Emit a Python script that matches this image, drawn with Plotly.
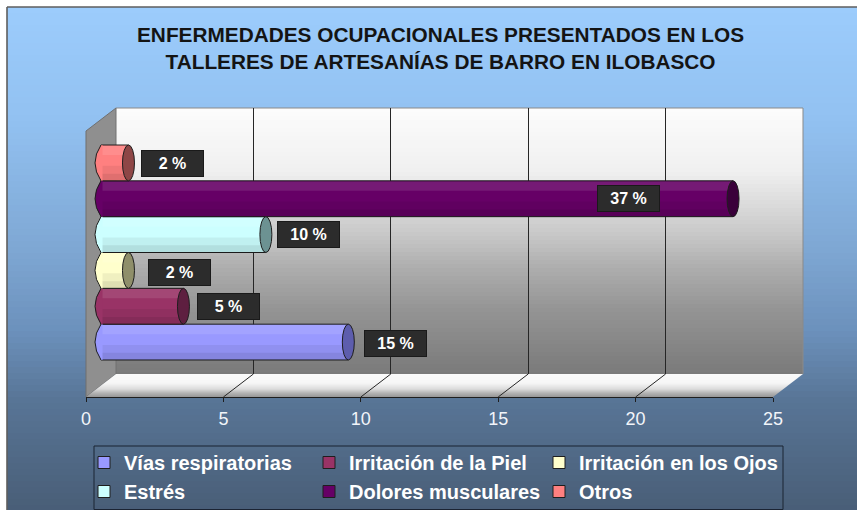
import plotly.graph_objects as go

# ---------------------------------------------------------------- datos
enfermedades = ["Vías respiratorias", "Irritación de la Piel", "Irritación en los Ojos",
                "Estrés", "Dolores musculares", "Otros"]
casos = [9, 3, 1, 6, 23, 1]             # longitud de cada cilindro (eje 0-25)
porcentajes = [15, 5, 2, 10, 37, 2]     # porcentaje rotulado en cada barra
marcas_x = [0, 5, 10, 15, 20, 25]

titulo = ("ENFERMEDADES OCUPACIONALES PRESENTADOS EN LOS<br>"
          "TALLERES DE ARTESANÍAS DE BARRO EN ILOBASCO")

# ---------------------------------------------------------------- estilo
colores = ["#9999FF", "#993366", "#FFFFCC", "#CCFFFF", "#660066", "#FF8080"]
colores_tapa = ["#5d5dad", "#5e1f40", "#8f8f6a", "#6c9292", "#3a003a", "#8e4646"]
# desplazamiento (px) de cada rótulo respecto al extremo de su barra
rotulo_dx = [47, 45, 51, 43, -105, 44]
rotulo_dy = [-1, 0, -2, 0, 0, -1]
# la leyenda se reparte en tres columnas
leyendas = ["legend", "legend2", "legend3"]
leyenda_x = [84, 309, 539]

W, H = 857, 510
FUENTE = "Liberation Sans, Arial, sans-serif"


def fx(p):
    return p / W


def fy(p):
    return 1 - p / H


def mezcla(paradas, y):
    for (y0, c0), (y1, c1) in zip(paradas, paradas[1:]):
        if y0 <= y <= y1:
            t = (y - y0) / (y1 - y0)
            return "rgb(%d,%d,%d)" % tuple(round(a + (b - a) * t) for a, b in zip(c0, c1))
    return "rgb(%d,%d,%d)" % paradas[-1][1]


# geometría de la caja 3D (px): plano frontal, medio y del fondo
FR_L, FR_R, FR_B, FR_T = 86, 773, 397, 131
FD_L, FD_R, FD_B, FD_T = 116, 803, 374, 108
MD_L, MD_R, MD_B, MD_T = 101, 788, 385.5, 119.5
PX_UNIDAD = (MD_R - MD_L) / marcas_x[-1]

shapes = []

# fondo degradado del área del gráfico
fondo = [(7, (156, 204, 252)), (120, (146, 193, 241)), (250, (126, 167, 211)),
         (330, (108, 145, 188)), (400, (88, 117, 150)), (510, (73, 94, 119))]
paso = 6
y = 7
while y < H:
    shapes.append(dict(type="rect", xref="paper", yref="paper", layer="below",
                       x0=fx(7), x1=1.0, y0=fy(min(y + paso, H)), y1=fy(y),
                       fillcolor=mezcla(fondo, y + paso / 2), line=dict(width=0)))
    y += paso
shapes.append(dict(type="line", xref="paper", yref="paper", layer="below",
                   x0=fx(7), x1=1, y0=fy(7), y1=fy(7), line=dict(color="#5e5e5e", width=1.6)))
shapes.append(dict(type="line", xref="paper", yref="paper", layer="below",
                   x0=fx(7), x1=fx(7), y0=fy(7), y1=0, line=dict(color="#5e5e5e", width=1.6)))

# pared del fondo
pared = [(FD_T, (252, 252, 252)), (170, (240, 240, 240)), (230, (203, 203, 203)),
         (270, (172, 172, 172)), (310, (148, 148, 148)), (FD_B, (122, 122, 122))]
y = FD_T
while y < FD_B:
    y2 = min(y + 4, FD_B)
    shapes.append(dict(type="rect", xref="paper", yref="paper", layer="below",
                       x0=fx(FD_L), x1=fx(FD_R), y0=fy(y2), y1=fy(y),
                       fillcolor=mezcla(pared, (y + y2) / 2), line=dict(width=0)))
    y = y2
shapes.append(dict(type="path", xref="paper", yref="paper", layer="below",
                   path="M %f,%f L %f,%f L %f,%f" % (fx(FD_L), fy(FD_T), fx(FD_R), fy(FD_T),
                                                     fx(FD_R), fy(FD_B)),
                   fillcolor="rgba(0,0,0,0)", line=dict(color="#8a8a8a", width=1)))

# pared izquierda
shapes.append(dict(type="path", xref="paper", yref="paper", layer="below",
                   path="M %f,%f L %f,%f L %f,%f L %f,%f Z" % (
                       fx(FR_L), fy(FR_T), fx(FD_L), fy(FD_T),
                       fx(FD_L), fy(FD_B), fx(FR_L), fy(FR_B)),
                   fillcolor="#8f8f8f", line=dict(color="#707070", width=1)))

# piso (paralelogramo con degradado)
piso = [(FD_B, (250, 250, 250)), (383, (246, 246, 246)), (389, (220, 220, 220)),
        (393, (180, 180, 180)), (FR_B, (150, 150, 150))]
dy_total = FR_B - FD_B


def borde_piso(yy):
    t = (yy - FD_B) / dy_total
    return FD_L + (FR_L - FD_L) * t, FD_R + (FR_R - FD_R) * t


y = FD_B
while y < FR_B:
    y2 = min(y + 1, FR_B)
    l1, r1 = borde_piso(y)
    l2, r2 = borde_piso(y2)
    shapes.append(dict(type="path", xref="paper", yref="paper", layer="below",
                       path="M %f,%f L %f,%f L %f,%f L %f,%f Z" % (
                           fx(l1), fy(y), fx(r1), fy(y), fx(r2), fy(y2), fx(l2), fy(y2)),
                       fillcolor=mezcla(piso, (y + y2) / 2), line=dict(width=0)))
    y = y2

# líneas de división sobre el piso
esc_fd = (FD_R - FD_L) / marcas_x[-1]
esc_fr = (FR_R - FR_L) / marcas_x[-1]
for t in marcas_x[1:-1]:
    shapes.append(dict(type="line", xref="paper", yref="paper", layer="below",
                       x0=fx(FD_L + esc_fd * t), y0=fy(FD_B),
                       x1=fx(FR_L + esc_fr * t), y1=fy(FR_B),
                       line=dict(color="#262626", width=1)))

# ---------------------------------------------------------------- cilindros
fig = go.Figure()
posiciones = list(range(len(casos)))

# trazas vacías para que se dibujen la rejilla del fondo y el eje frontal
for ex, ey in [("x", "y"), ("x2", "y2")]:
    fig.add_trace(go.Scatter(x=[], y=[], xaxis=ex, yaxis=ey, showlegend=False,
                             hoverinfo="skip", mode="markers"))

for i, (nombre, v) in enumerate(zip(enfermedades, casos)):
    fig.add_trace(go.Bar(
        y=[posiciones[i]], x=[v], orientation="h", width=[1.0], name=nombre,
        legend=leyendas[i % 3], legendgroup=nombre,
        marker=dict(color=colores[i], line=dict(color="#1e1e1e", width=1)),
        xaxis="x3", yaxis="y3", hoverinfo="x+name"))
    # sombreado del cilindro
    for off, wd, col in [(-0.5, 0.42, "rgba(0,0,0,0.06)"), (-0.5, 0.2, "rgba(0,0,0,0.07)"),
                         (0.22, 0.26, "rgba(255,255,255,0.10)")]:
        fig.add_trace(go.Bar(
            y=[posiciones[i]], x=[v], orientation="h", width=[wd], offset=[off],
            marker=dict(color=col, line=dict(width=0)), showlegend=False,
            hoverinfo="skip", xaxis="x3", yaxis="y3"))

    y0, y1 = posiciones[i] - 0.5, posiciones[i] + 0.5
    # extremo izquierdo redondeado
    shapes.append(dict(type="path", xref="x3", yref="y3", xsizemode="pixel", xanchor=0,
                       path="M 1.5,%f L 0,%f Q -12,%f 0,%f L 1.5,%f Z" % (
                           y0, y0, posiciones[i], y1, y1),
                       fillcolor=colores[i], line=dict(width=0)))
    shapes.append(dict(type="path", xref="x3", yref="y3", xsizemode="pixel", xanchor=0,
                       path="M 0,%f Q -12,%f 0,%f" % (y0, posiciones[i], y1),
                       fillcolor="rgba(0,0,0,0)", line=dict(color="#1e1e1e", width=1)))
    # tapa del cilindro
    shapes.append(dict(type="circle", xref="x3", yref="y3", xsizemode="pixel", xanchor=v,
                       x0=-6, x1=6, y0=y0, y1=y1, fillcolor=colores_tapa[i],
                       line=dict(color="#1e1e1e", width=1)))

# recuadro de la leyenda
shapes.append(dict(type="rect", xref="paper", yref="paper", x0=fx(94), x1=fx(783),
                   y0=fy(509.5), y1=fy(446), fillcolor="rgba(0,0,0,0)",
                   line=dict(color="#1b2433", width=1)))

# ---------------------------------------------------------------- rótulos
annotations = [dict(xref="paper", yref="paper", x=fx(440), y=fy(48), text=titulo,
                    showarrow=False, xanchor="center", yanchor="middle",
                    font=dict(family=FUENTE, size=20.8, color="#141414", weight="bold"))]
for i, (v, p) in enumerate(zip(casos, porcentajes)):
    annotations.append(dict(
        xref="x3", yref="y3", x=v, y=posiciones[i], text="%d %%" % p, showarrow=False,
        xshift=rotulo_dx[i], yshift=rotulo_dy[i], width=59, height=23, borderpad=1,
        bgcolor="#2c2c2c", bordercolor="#1a1a1a", borderwidth=1,
        font=dict(family=FUENTE, size=16, color="#ffffff", weight="bold")))

# ---------------------------------------------------------------- ejes
n = len(casos)
alto_barra = (MD_B - MD_T) / 35.83
centro = (n - 1) / 2

estilo_leyenda = dict(orientation="v", y=fy(443), xanchor="left", yanchor="top",
                      bgcolor="rgba(0,0,0,0)", borderwidth=0, itemwidth=30,
                      tracegroupgap=0,
                      font=dict(family=FUENTE, size=20, color="#ffffff", weight="bold"))

fig.update_layout(
    width=W, height=H, margin=dict(l=0, r=0, t=0, b=0, autoexpand=False),
    paper_bgcolor="white", plot_bgcolor="rgba(0,0,0,0)",
    barmode="overlay", showlegend=True,
    # rejilla de la pared del fondo
    xaxis=dict(domain=[fx(FD_L), fx(FD_R)], range=[0, marcas_x[-1]], anchor="y",
               showgrid=True, gridcolor="#262626", gridwidth=1, tickvals=marcas_x,
               showticklabels=False, ticks="", zeroline=False, showline=False),
    yaxis=dict(domain=[fy(FD_B), fy(FD_T)], range=[0, 1], visible=False),
    # eje frontal con las marcas
    xaxis2=dict(domain=[fx(FR_L), fx(FR_R)], range=[0, marcas_x[-1]], anchor="y2",
                showgrid=False, zeroline=False, showline=True, linecolor="#1e1e1e",
                linewidth=1, ticks="outside", ticklen=4, tickcolor="#1e1e1e",
                tickvals=marcas_x, ticklabelstandoff=1,
                tickfont=dict(family=FUENTE, size=18, color="#f2f5fa")),
    yaxis2=dict(domain=[fy(FR_B), fy(FR_T)], range=[0, 1], visible=False),
    # plano medio donde se apoyan los cilindros (con margen a la izquierda para el borde curvo)
    xaxis3=dict(domain=[fx(FR_L), fx(MD_R)],
                range=[-(MD_L - FR_L) / PX_UNIDAD, marcas_x[-1]], anchor="y3",
                visible=False),
    yaxis3=dict(domain=[fy(MD_B), fy(MD_T)],
                range=[centro - alto_barra / 2, centro + alto_barra / 2], visible=False),
    legend=dict(estilo_leyenda, x=fx(leyenda_x[0])),
    legend2=dict(estilo_leyenda, x=fx(leyenda_x[1])),
    legend3=dict(estilo_leyenda, x=fx(leyenda_x[2])),
    shapes=shapes, annotations=annotations,
)

fig.write_html("out.html")
